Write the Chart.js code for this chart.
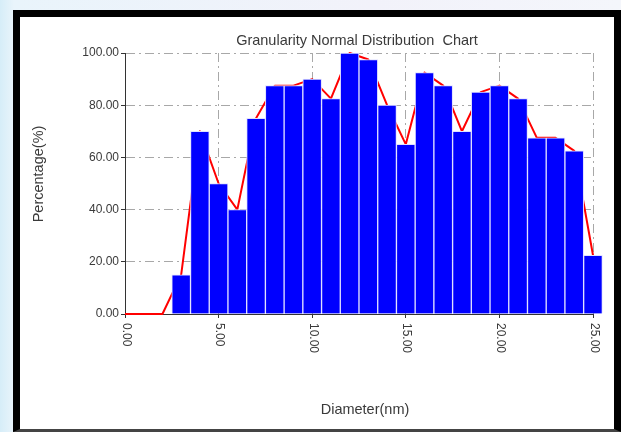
<!DOCTYPE html>
<html>
<head>
<meta charset="utf-8">
<script src="https://cdn.jsdelivr.net/npm/chart.js@4.4.0/dist/chart.umd.min.js"></script>
<style>
html,body{margin:0;padding:0}
body{width:621px;height:432px;overflow:hidden;position:relative;
  background:linear-gradient(90deg,#d6edf8 0,#e9f4fb 14px,#f2f2fa 60%,#f4f6fb 100%)}
#frame{position:absolute;left:13px;top:10px;width:594px;height:412px;
  border-left:7px solid #000;border-top:7px solid #000;border-right:7px solid #000;
  border-bottom:3px solid #444;background:#fff}
canvas{display:block}
</style>
</head>
<body>
<div id="frame"><canvas id="chart" width="594" height="412"></canvas></div>
<script>
// bar data: diameter (nm) vs percentage
const diameters = [3,4,5,6,7,8,9,10,11,12,13,14,15,16,17,18,19,20,21,22,23,24,25]
const percents = [15,70,50,40,75,87.5,87.5,90,82.5,100,97.5,80,65,92.5,87.5,70,85,87.5,82.5,67.5,67.5,62.5,22.5]

// the red curve also starts at the origin
const lineDiameters = [0,1,2,3,4,5,6,7,8,9,10,11,12,13,14,15,16,17,18,19,20,21,22,23,24,25]
const lineValues = [0,0,0,15,70,50,40,75,87.5,87.5,90,82.5,100,97.5,80,65,92.5,87.5,70,85,87.5,82.5,67.5,67.5,62.5,22.5]

const chartTitle = "Granularity Normal Distribution  Chart"
const xTitle = "Diameter(nm)"
const yTitle = "Percentage(%)"

const textColor = "#3a3a3a"
const font = "Liberation Sans, Arial, sans-serif"

const textPlugin = {
    id: "texts",
    afterDraw(chart){
        const ctx = chart.ctx
        const x = chart.scales.x
        const area = chart.chartArea
        ctx.save()
        ctx.fillStyle = textColor
        // rotated x tick labels (read top to bottom)
        ctx.font = "12px " + font
        x.ticks.forEach((t)=> {
            const px = x.getPixelForValue(t.value)
            ctx.save()
            ctx.translate(px + 1, area.bottom + 9)
            ctx.rotate(Math.PI / 2)
            ctx.textAlign = "left"
            ctx.textBaseline = "middle"
            ctx.fillText(t.value.toFixed(2), 0, 0)
            ctx.restore()
        })
        ctx.font = "14.5px " + font
        ctx.textAlign = "center"
        ctx.textBaseline = "middle"
        ctx.fillText(chartTitle, 337, 24)
        ctx.fillText(xTitle, 345, 393)
        ctx.translate(19, 157)
        ctx.rotate(-Math.PI / 2)
        ctx.fillText(yTitle, 0, 0)
        ctx.restore()
    }
}

const dash = [9, 4, 2, 4]

new Chart(document.getElementById("chart"), {
    type: "bar",
    data: {
        datasets: [
            {
                type: "bar",
                data: diameters.map((d, i)=> ({x: d, y: percents[i]})),
                backgroundColor: "#0000ff",
                borderColor: "#e0e0ff",
                borderWidth: 1,
                barPercentage: 1,
                categoryPercentage: 1,
                clip: false,
                order: 1,
            },
            {
                type: "line",
                data: lineDiameters.map((d, i)=> ({x: d, y: lineValues[i]})),
                borderColor: "#ff0000",
                borderWidth: 2,
                borderJoinStyle: "round",
                pointRadius: 0,
                tension: 0,
                fill: false,
                clip: false,
                order: 2,
            }
        ]
    },
    options: {
        responsive: false,
        animation: false,
        devicePixelRatio: 1,
        layout: { padding: { left: 0, top: 36, right: 21, bottom: 0 } },
        plugins: { legend: { display: false }, tooltip: { enabled: false }, title: { display: false } },
        scales: {
            x: {
                type: "linear",
                min: 0,
                max: 25,
                offset: false,
                ticks: { display: false, stepSize: 5 },
                grid: { color: "#a8a8a8", lineWidth: 1, offset: false, tickLength: 4, tickColor: "#333" },
                border: { color: "#333", width: 1, dash: dash },
                afterFit(scale){ scale.height = 115 },
            },
            y: {
                min: 0,
                max: 100,
                ticks: {
                    stepSize: 20,
                    padding: 2,
                    color: textColor,
                    font: { family: font, size: 12 },
                    callback: (v)=> v.toFixed(2),
                },
                grid: { color: "#a8a8a8", lineWidth: 1, tickLength: 4, tickColor: "#333" },
                border: { color: "#333", width: 1, dash: dash },
                afterFit(scale){ scale.width = 105 },
            }
        }
    },
    plugins: [textPlugin]
})
</script>
</body>
</html>
